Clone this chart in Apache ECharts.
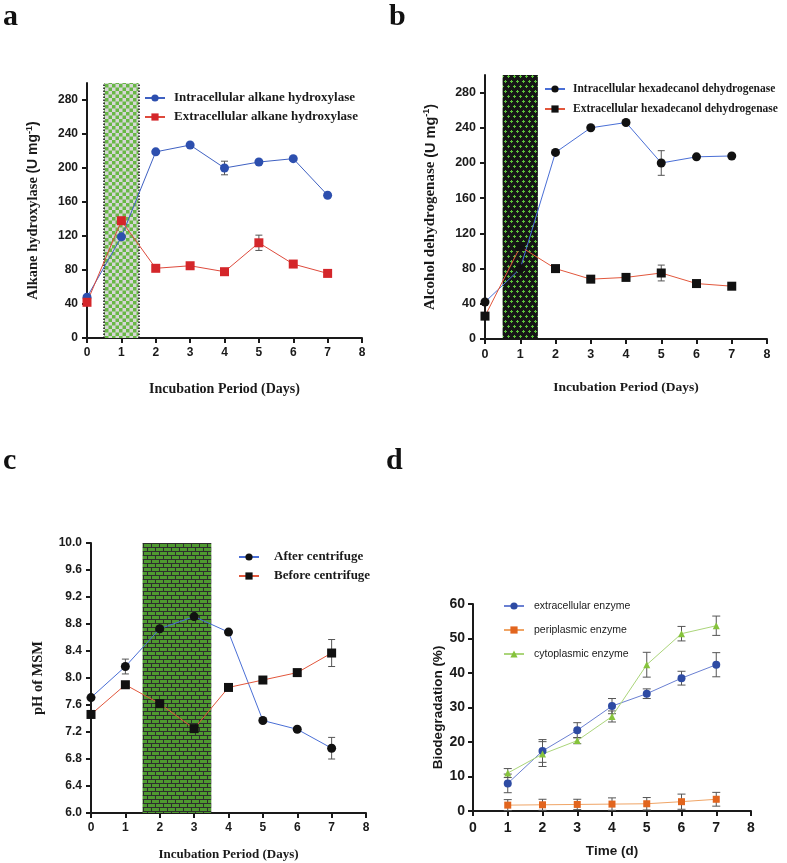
<!DOCTYPE html>
<html><head><meta charset="utf-8">
<script src="https://cdn.jsdelivr.net/npm/echarts@6/dist/echarts.min.js"></script>
<style>html,body{margin:0;padding:0;background:#fff}#c{width:787px;height:863px}</style>
</head><body><div id="c"></div>
<script>
// ---- data ----
const days = [0, 1, 2, 3, 4, 5, 6, 7];
const aIntra = [48, 119, 219, 227, 200, 207, 211, 168];
const aIntraErr = [0, 0, 0, 0, 8, 0, 0, 0];
const aExtra = [42, 138, 82, 85, 78, 112, 87, 76];
const aExtraErr = [0, 0, 0, 0, 0, 9, 0, 0];
const bIntra = [42, 80, 212, 240, 246, 200, 207, 208];
const bIntraErr = [0, 0, 0, 0, 0, 14, 0, 0];
const bExtra = [26, 105, 80, 68, 70, 75, 63, 60];
const bExtraErr = [0, 0, 0, 0, 0, 9, 0, 0];
const cAfter = [7.71, 8.17, 8.73, 8.91, 8.68, 7.37, 7.24, 6.96];
const cAfterErr = [0, 0.11, 0, 0, 0, 0, 0, 0.16];
const cBefore = [7.46, 7.90, 7.62, 7.25, 7.86, 7.97, 8.08, 8.37];
const cBeforeErr = [0, 0, 0, 0, 0, 0, 0, 0.2];
const dDays = [1, 2, 3, 4, 5, 6, 7];
const dExtra = [8.0, 17.4, 23.4, 30.4, 34.0, 38.5, 42.4];
const dExtraErr = [2.7, 3.3, 2.2, 2.2, 1.4, 2.0, 3.5];
const dPeri = [1.7, 1.8, 1.9, 2.0, 2.1, 2.7, 3.4];
const dPeriErr = [1.6, 1.6, 1.5, 1.8, 1.8, 2.2, 2.0];
const dCyto = [11.0, 16.5, 20.4, 27.4, 42.4, 51.4, 53.7];
const dCytoErr = [1.3, 3.6, 0.9, 1.6, 3.6, 2.1, 2.8];
const aShade = [0.5, 1.5];
const bShade = [0.5, 1.5];
const cShade = [1.5, 3.5];
const ticksAB = [0, 40, 80, 120, 160, 200, 240, 280];
const ticksC = [6.0, 6.4, 6.8, 7.2, 7.6, 8.0, 8.4, 8.8, 9.2, 9.6, 10.0];

// ---- patterns ----
function mk(w, h, draw) { const c = document.createElement('canvas'); c.width = w; c.height = h; const g = c.getContext('2d'); draw(g); return c; }
const checker = mk(7, 7, g => { g.fillStyle = '#d6d6d6'; g.fillRect(0, 0, 7, 7); g.fillStyle = '#68b845'; g.fillRect(0, 0, 3.5, 3.5); g.fillRect(3.5, 3.5, 3.5, 3.5); });
const dots = mk(6, 10, g => { g.fillStyle = '#161616'; g.fillRect(0, 0, 6, 10); g.fillStyle = '#5cc03a';
  [[1, 1], [4, 6]].forEach(([x, y]) => { g.fillRect(x, y - 1, 1, 3); g.fillRect(x - 1, y, 3, 1); }); });
const bricks = mk(8, 8, g => { g.fillStyle = '#2e2e2e'; g.fillRect(0, 0, 8, 8); g.fillStyle = '#4f9a30';
  g.fillRect(0, 0, 7, 3); g.fillRect(4, 4, 4, 3); g.fillRect(0, 4, 3, 3); });

const SANS = 'Liberation Sans', SERIF = 'Liberation Serif';
const pairs = (xs, ys) => xs.map((x, i) => [x, ys[i]]);
const triples = (xs, ys, es) => xs.map((x, i) => [x, ys[i], es[i]]);

function errSeries(idx, xs, ys, es, cap) {
  return { type: 'custom', xAxisIndex: idx, yAxisIndex: idx, z: 3, silent: true,
    data: triples(xs, ys, es),
    renderItem: (p, api) => {
      const x = api.value(0), y = api.value(1), e = api.value(2);
      if (!e) return null;
      const t = api.coord([x, y + e]), b = api.coord([x, y - e]);
      const st = { stroke: '#555', lineWidth: 1 };
      return { type: 'group', children: [
        { type: 'line', shape: { x1: t[0], y1: t[1], x2: b[0], y2: b[1] }, style: st },
        { type: 'line', shape: { x1: t[0] - cap, y1: t[1], x2: t[0] + cap, y2: t[1] }, style: st },
        { type: 'line', shape: { x1: b[0] - cap, y1: b[1], x2: b[0] + cap, y2: b[1] }, style: st }
      ] };
    } };
}
function lineSeries(idx, name, xs, ys, symbol, size, mColor, lColor) {
  return { type: 'line', name, xAxisIndex: idx, yAxisIndex: idx, z: 5, data: pairs(xs, ys),
    symbol, symbolSize: size, showSymbol: true,
    itemStyle: { color: mColor }, lineStyle: { color: lColor, width: 1 } };
}
function shadeSeries(idx, range, img, dotted) {
  const s = { type: 'line', xAxisIndex: idx, yAxisIndex: idx, z: 1, data: [], silent: true,
    markArea: { silent: true, itemStyle: { color: { image: img, repeat: 'repeat' } },
      data: [[{ xAxis: range[0] }, { xAxis: range[1] }]] } };
  if (dotted) s.markLine = { silent: true, symbol: 'none', label: { show: false },
    lineStyle: { color: '#111', type: 'dotted', width: 1.5 },
    data: [{ xAxis: range[0] }, { xAxis: range[1] }] };
  return s;
}
function xAx(idx, name, fs, gap, nameFont, tickFs, margin) {
  return { type: 'value', gridIndex: idx, min: 0, max: 8, interval: 1,
    name, nameLocation: 'middle', nameGap: gap,
    nameTextStyle: { fontFamily: nameFont, fontWeight: 'bold', fontSize: fs, color: '#1a1a1a' },
    splitLine: { show: false },
    axisLine: { onZero: false, lineStyle: { color: '#1a1a1a', width: 2 } },
    axisTick: { length: 5, lineStyle: { width: 2, color: '#1a1a1a' } },
    axisLabel: { fontFamily: SANS, fontWeight: 'bold', fontSize: tickFs, color: '#1a1a1a', margin } };
}
function yAx(idx, min, max, interval, custom, name, gap, rich, tickFs, margin, fmt) {
  const ax = { type: 'value', gridIndex: idx, min, max, interval,
    name, nameLocation: 'middle', nameGap: gap, nameRotate: 90,
    nameTextStyle: { rich },
    splitLine: { show: false },
    axisLine: { onZero: false, lineStyle: { color: '#1a1a1a', width: 2 } },
    axisTick: { length: 5, lineStyle: { width: 2, color: '#1a1a1a' } },
    axisLabel: { fontFamily: SANS, fontWeight: 'bold', fontSize: tickFs, color: '#1a1a1a', margin } };
  if (custom) { ax.axisTick.customValues = custom; ax.axisLabel.customValues = custom; }
  if (fmt) ax.axisLabel.formatter = fmt;
  return ax;
}
const richU = (fs) => ({
  t: { fontFamily: SERIF, fontWeight: 'bold', fontSize: fs, color: '#1a1a1a' },
  s: { fontFamily: SANS, fontWeight: 'bold', fontSize: fs - 0.5, color: '#1a1a1a' },
  p: { fontFamily: SANS, fontWeight: 'bold', fontSize: 9, color: '#1a1a1a', verticalAlign: 'top', padding: [0, 0, 8, 0] }
});
function legend(names, left, top, gap, font, fs, padL) {
  return { data: names, orient: 'vertical', left, top, itemGap: gap, itemWidth: 20, itemHeight: 9,
    textStyle: { fontFamily: font, fontWeight: font === SERIF ? 'bold' : 'normal', fontSize: fs, color: '#1a1a1a',
      lineHeight: 14, padding: [0, 0, 0, padL] } };
}
const title = (t, left, top) => ({ text: t, left, top, padding: 0,
  textStyle: { fontFamily: SERIF, fontWeight: 'bold', fontSize: 30, color: '#111' } });

const option = {
  animation: false,
  backgroundColor: '#fff',
  title: [title('a', 3, 2), title('b', 389, 2), title('c', 3, 446), title('d', 386, 446)],
  grid: [
    { left: 87, top: 83, width: 275, height: 255 },
    { left: 485, top: 75, width: 282, height: 264 },
    { left: 91, top: 543, width: 275, height: 270 },
    { left: 473, top: 604, width: 278, height: 207 }
  ],
  xAxis: [
    xAx(0, 'Incubation Period (Days)', 14, 44, SERIF, 12, 9),
    xAx(1, 'Incubation Period (Days)', 13.5, 42, SERIF, 12.5, 9),
    xAx(2, 'Incubation Period (Days)', 13, 35, SERIF, 12, 9),
    xAx(3, 'Time (d)', 13.5, 33, SANS, 14, 10)
  ],
  yAxis: [
    yAx(0, 0, 300, 40, ticksAB, '{t|Alkane hydroxylase }{s|(U mg}{p|-1}{s|)}', 45, richU(14.5), 12, 9),
    yAx(1, 0, 300, 40, ticksAB, '{t|Alcohol dehydrogenase }{s|(U mg}{p|-1}{s|)}', 46, richU(15), 12.5, 9),
    yAx(2, 6, 10, 0.4, ticksC, '{t|pH of MSM}', 45, { t: { fontFamily: SERIF, fontWeight: 'bold', fontSize: 14.5, color: '#1a1a1a' } }, 12, 9, v => v.toFixed(1)),
    yAx(3, 0, 60, 10, null, '{s|Biodegradation (%)}', 27, { s: { fontFamily: SANS, fontWeight: 'bold', fontSize: 13.5, color: '#1a1a1a' } }, 14, 8)
  ],
  legend: [
    legend(['Intracellular alkane hydroxylase', 'Extracellular alkane hydroxylase'], 139, 86, 5, SERIF, 13, 4),
    legend(['Intracellular hexadecanol dehydrogenase', 'Extracellular hexadecanol dehydrogenase'], 539, 77, 6, SERIF, 11.5, 3),
    legend(['After centrifuge', 'Before centrifuge'], 233, 545, 5, SERIF, 13, 10),
    legend(['extracellular enzyme', 'periplasmic enzyme', 'cytoplasmic enzyme'], 498, 594, 10, SANS, 10.5, 5)
  ],
  series: [
    shadeSeries(0, aShade, checker, true),
    shadeSeries(1, bShade, dots, false),
    shadeSeries(2, cShade, bricks, false),
    errSeries(0, days, aIntra, aIntraErr, 3.5),
    errSeries(0, days, aExtra, aExtraErr, 3.5),
    lineSeries(0, 'Intracellular alkane hydroxylase', days, aIntra, 'circle', 9, '#2d4fae', '#3f61c2'),
    lineSeries(0, 'Extracellular alkane hydroxylase', days, aExtra, 'rect', 9, '#d4262a', '#de4a3c'),
    errSeries(1, days, bIntra, bIntraErr, 3.5),
    errSeries(1, days, bExtra, bExtraErr, 3.5),
    lineSeries(1, 'Intracellular hexadecanol dehydrogenase', days, bIntra, 'circle', 9, '#111', '#4a6fd6'),
    lineSeries(1, 'Extracellular hexadecanol dehydrogenase', days, bExtra, 'rect', 9, '#111', '#e2573c'),
    errSeries(2, days, cAfter, cAfterErr, 3.5),
    errSeries(2, days, cBefore, cBeforeErr, 3.5),
    lineSeries(2, 'After centrifuge', days, cAfter, 'circle', 9, '#111', '#4a6fd6'),
    lineSeries(2, 'Before centrifuge', days, cBefore, 'rect', 9, '#111', '#e2573c'),
    errSeries(3, dDays, dExtra, dExtraErr, 4),
    errSeries(3, dDays, dPeri, dPeriErr, 4),
    errSeries(3, dDays, dCyto, dCytoErr, 4),
    lineSeries(3, 'extracellular enzyme', dDays, dExtra, 'circle', 8, '#2e4ba3', '#6a80d2'),
    lineSeries(3, 'periplasmic enzyme', dDays, dPeri, 'rect', 7, '#e2651e', '#f0a566'),
    lineSeries(3, 'cytoplasmic enzyme', dDays, dCyto, 'triangle', 7, '#86c33c', '#abd57a')
  ]
};
const chart = echarts.init(document.getElementById('c'), null, { renderer: 'canvas' });
chart.setOption(option);
</script></body></html>
